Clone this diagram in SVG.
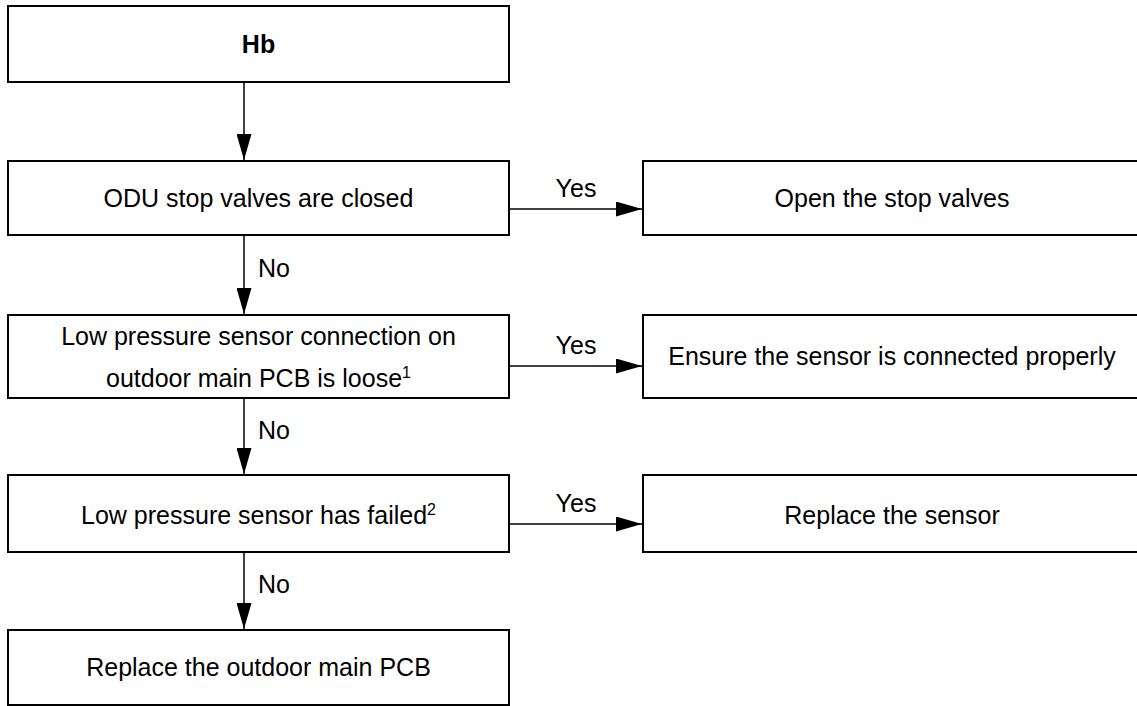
<svg xmlns="http://www.w3.org/2000/svg" width="1137" height="706" viewBox="0 0 1137 706">
  <style>
    .box { fill: #ffffff; stroke: #000000; stroke-width: 2; }
    .txt { font-family: "Liberation Sans", Arial, sans-serif; font-size: 25px; fill: #000000; text-anchor: middle; }
    .bold { font-weight: bold; }
    .lbl { font-family: "Liberation Sans", Arial, sans-serif; font-size: 25px; fill: #000000; }
    .sup { font-size: 16px; }
    .conn { fill: none; stroke: #000000; stroke-width: 1.5; }
  </style>
  <defs>
    <marker id="arrow" markerUnits="userSpaceOnUse" markerWidth="26" markerHeight="15" refX="26" refY="7.5" orient="auto">
      <path d="M0,0 L26,7.5 L0,15 Z" fill="#000000"/>
    </marker>
  </defs>
  <rect width="1137" height="706" fill="#ffffff"/>

  <g id="n-hb">
    <rect class="box" x="8" y="6" width="501" height="76"/>
    <text class="txt bold" x="258.5" y="53">Hb</text>
  </g>
  <g id="n-stopvalves">
    <rect class="box" x="8" y="161" width="501" height="74"/>
    <text class="txt" x="258.5" y="207">ODU stop valves are closed</text>
  </g>
  <g id="n-openvalves">
    <rect class="box" x="643" y="161" width="510" height="74"/>
    <text class="txt" x="892" y="207">Open the stop valves</text>
  </g>
  <g id="n-connection">
    <rect class="box" x="8" y="315" width="501" height="83"/>
    <text class="txt" x="258.5" y="345">Low pressure sensor connection on</text>
    <text class="txt" x="258.5" y="387">outdoor main PCB is loose<tspan class="sup" dy="-9">1</tspan></text>
  </g>
  <g id="n-ensure">
    <rect class="box" x="643" y="315" width="510" height="83"/>
    <text class="txt" x="892" y="365">Ensure the sensor is connected properly</text>
  </g>
  <g id="n-failed">
    <rect class="box" x="8" y="475" width="501" height="77"/>
    <text class="txt" x="258.5" y="524">Low pressure sensor has failed<tspan class="sup" dy="-9">2</tspan></text>
  </g>
  <g id="n-replacesensor">
    <rect class="box" x="643" y="475" width="510" height="77"/>
    <text class="txt" x="892" y="524">Replace the sensor</text>
  </g>
  <g id="n-replacepcb">
    <rect class="box" x="8" y="630" width="501" height="75"/>
    <text class="txt" x="258.5" y="676">Replace the outdoor main PCB</text>
  </g>

  <g id="connectors">
    <line class="conn" x1="244" y1="83" x2="244" y2="160" marker-end="url(#arrow)"/>
    <line class="conn" x1="509" y1="209" x2="642" y2="209" marker-end="url(#arrow)"/>
    <text class="lbl" x="576" y="197" text-anchor="middle">Yes</text>
    <line class="conn" x1="244" y1="236" x2="244" y2="314" marker-end="url(#arrow)"/>
    <text class="lbl" x="258" y="277">No</text>
    <line class="conn" x1="509" y1="366" x2="642" y2="366" marker-end="url(#arrow)"/>
    <text class="lbl" x="576" y="354" text-anchor="middle">Yes</text>
    <line class="conn" x1="244" y1="399" x2="244" y2="474" marker-end="url(#arrow)"/>
    <text class="lbl" x="258" y="439">No</text>
    <line class="conn" x1="509" y1="524" x2="642" y2="524" marker-end="url(#arrow)"/>
    <text class="lbl" x="576" y="512" text-anchor="middle">Yes</text>
    <line class="conn" x1="244" y1="553" x2="244" y2="629" marker-end="url(#arrow)"/>
    <text class="lbl" x="258" y="593">No</text>
  </g>
</svg>
